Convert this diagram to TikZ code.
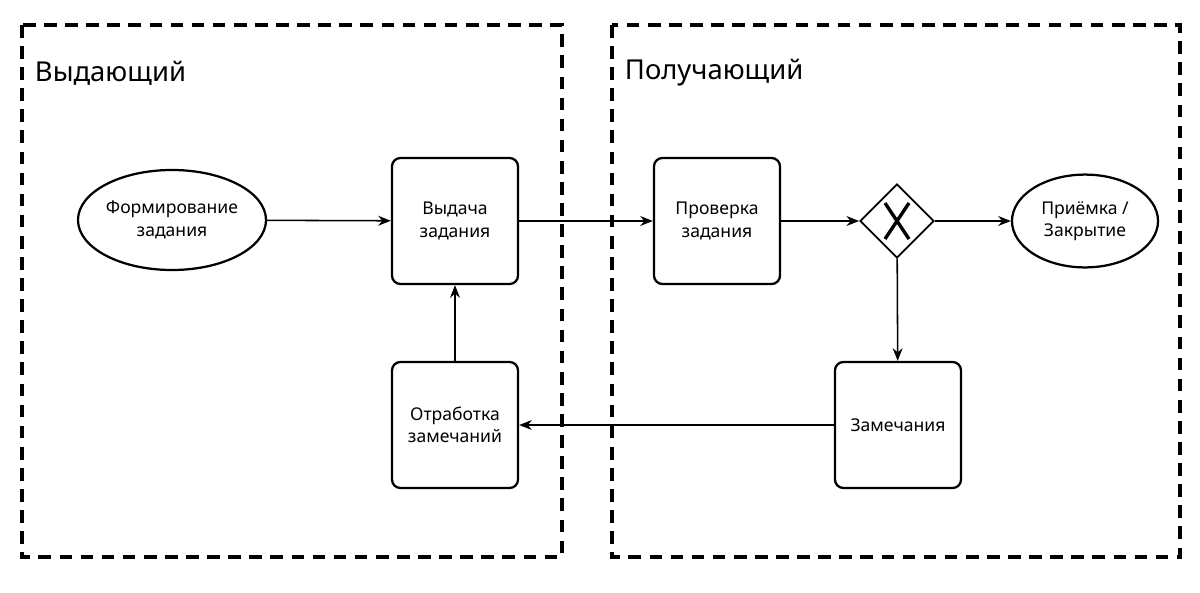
\documentclass[tikz,border=0pt]{standalone}
\usepackage{fontspec}
\setmainfont{Noto Sans}
\usetikzlibrary{shapes.geometric,arrows.meta}
\tikzset{
	zone/.style={line width=2.2pt, dash pattern=on 9pt off 6pt},
	task/.style={draw, line width=1.6pt, rounded corners=6pt, minimum width=3.15cm, minimum height=3.15cm, align=center, font=\fontsize{12.5}{16}\selectfont},
	event/.style={draw, line width=1.6pt, ellipse, inner sep=0pt, align=center, font=\fontsize{12.5}{16}\selectfont},
	gate/.style={draw, line width=1.2pt, diamond, minimum width=1.85cm, minimum height=1.85cm},
	flow/.style={line width=1.1pt, -{Stealth[length=9pt,width=7pt]}}
}
\begin{document}
\begin{tikzpicture}[x=0.025cm,y=-0.025cm]
	\useasboundingbox (0,0) rectangle (1200,592);
	% Zonen
	\draw [zone] (22,25) rectangle (562,557);
	\draw [zone] (612,25) rectangle (1180,557);
	\node [anchor=west, font=\fontsize{19.5}{23}\selectfont] (lblA) at (30,73) {Выдающий};
	\node [anchor=west, font=\fontsize{19.5}{23}\selectfont] (lblB) at (620,73) {Получающий};
	% Knoten
	\node [event, minimum width=4.7cm, minimum height=2.5cm] (form) at (172,220) {Формирование\\задания};
	\node [task] (issue) at (455,221) {Выдача\\задания};
	\node [task] (check) at (717,221) {Проверка\\задания};
	\node [gate] (xor) at (897,221) {};
	\draw [line width=2.4pt] (xor.center) ++(-12,-18) -- ++(24,36) ++(0,-36) -- ++(-24,36);
	\node [event, minimum width=3.65cm, minimum height=2.32cm] (accept) at (1085,221) {Приёмка /\\Закрытие};
	\node [task] (remarks) at (898,425) {Замечания};
	\node [task] (fix) at (455,425) {Отработка\\замечаний};
	% Pfeile
	\draw [flow] (form) -- (issue);
	\draw [flow] (issue) -- (check);
	\draw [flow] (check) -- (xor);
	\draw [flow] (xor) -- (accept);
	\draw [flow] (xor) -- (remarks);
	\draw [flow] (remarks) -- (fix);
	\draw [flow] (fix) -- (issue);
\end{tikzpicture}
\end{document}
